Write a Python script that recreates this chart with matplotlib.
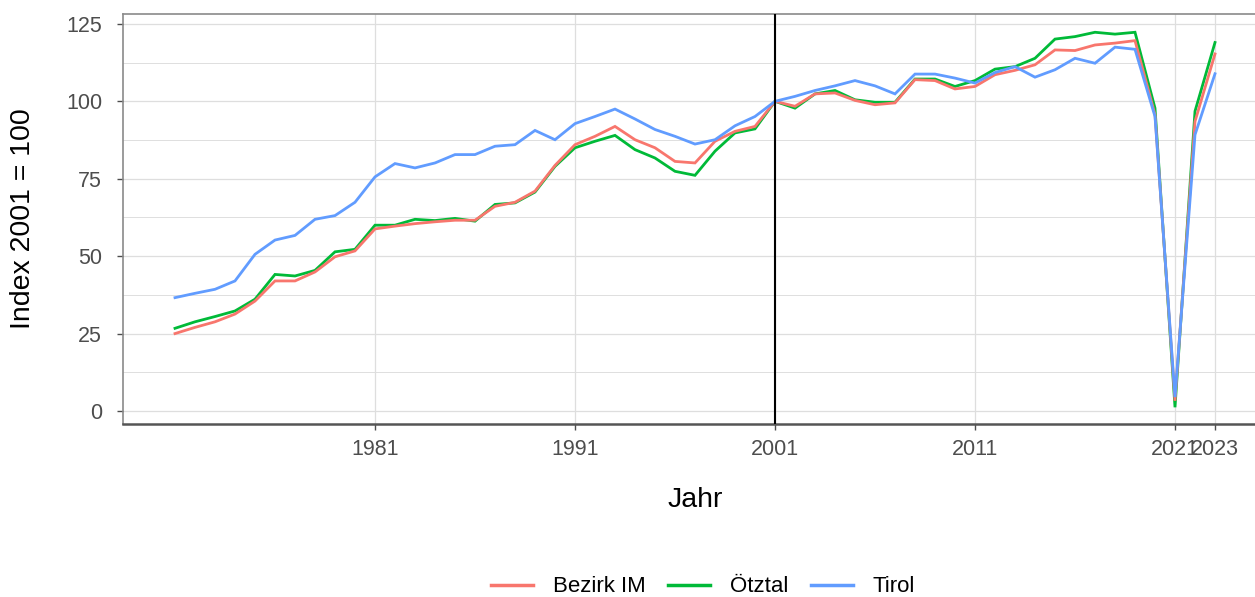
import matplotlib
matplotlib.use("Agg")
import matplotlib.pyplot as plt
from matplotlib.ticker import MultipleLocator

plt.rcParams['font.family'] = ['Liberation Sans', 'DejaVu Sans']

years = list(range(1971, 2024))

bezirk_im = [25.0, 27.0, 28.8, 31.3, 35.5, 42.0, 42.0, 44.9, 49.8, 51.7,
             58.8, 59.7, 60.5, 61.1, 61.6, 61.6, 66.1, 67.4, 71.0, 79.3,
             86.0, 88.7, 91.9, 87.6, 85.0, 80.6, 80.1, 87.1, 90.3, 91.9,
             100.0, 98.4, 102.4, 102.7, 100.3, 98.9, 99.5, 107.0, 106.7, 104.0,
             104.8, 108.6, 110.0, 111.8, 116.6, 116.4, 118.2, 118.8, 119.6, 95.7,
             3.3, 93.5, 115.3]

oetztal = [26.7, 28.8, 30.5, 32.3, 36.1, 44.1, 43.6, 45.4, 51.4, 52.2,
           60.0, 60.0, 61.9, 61.5, 62.2, 61.3, 66.7, 67.2, 70.7, 79.0,
           85.0, 87.1, 89.0, 84.4, 81.7, 77.4, 76.1, 83.9, 89.8, 91.1,
           100.0, 97.8, 102.4, 103.5, 100.5, 99.7, 99.7, 107.2, 107.2, 104.8,
           106.7, 110.4, 111.2, 113.9, 120.1, 120.9, 122.3, 121.7, 122.3, 97.8,
           1.2, 96.8, 119.0]

tirol = [36.6, 38.0, 39.3, 42.0, 50.6, 55.2, 56.7, 61.9, 63.1, 67.4,
         75.6, 79.9, 78.5, 80.1, 82.8, 82.8, 85.5, 86.0, 90.6, 87.6,
         92.8, 95.1, 97.5, 94.3, 90.9, 88.7, 86.2, 87.6, 92.1, 95.1,
         100.0, 101.6, 103.5, 105.0, 106.7, 105.0, 102.4, 108.8, 108.8, 107.5,
         105.9, 109.3, 111.2, 107.8, 110.2, 113.9, 112.3, 117.5, 116.8, 95.1,
         4.5, 89.2, 108.9]

x_breaks = [1981, 1991, 2001, 2011, 2021, 2023]
x_labels = ["1981", "1991", "2001", "2011", "2021", "2023"]
y_breaks = [0, 25, 50, 75, 100, 125]
series_names = ["Bezirk IM", "Ötztal", "Tirol"]
colors = ["#F8766D", "#00BA38", "#619CFF"]

W, H = 1255, 597
fig = plt.figure(figsize=(W / 100, H / 100), dpi=100)
ax = fig.add_axes([123 / W, (H - 424) / H, 1144 / W, 410 / H])

ax.set_xlim(1968.4, 2025.6)
ax.set_ylim(-4.2, 128.2)

# grid
ax.set_xticks(x_breaks)
ax.set_xticklabels(x_labels)
ax.set_yticks(y_breaks)
ax.yaxis.set_minor_locator(MultipleLocator(12.5))
ax.grid(which='major', color='#dedede', linewidth=0.9)
ax.grid(which='minor', axis='y', color='#dedede', linewidth=0.7)
ax.tick_params(which='minor', length=0)
ax.set_axisbelow(True)

data = {"Bezirk IM": bezirk_im, "Ötztal": oetztal, "Tirol": tirol}
handles = {}
for name, z in [("Ötztal", 2), ("Bezirk IM", 3), ("Tirol", 4)]:
    col = colors[series_names.index(name)]
    ln, = ax.plot(years, data[name], color=col, linewidth=2.0, zorder=z,
                  solid_joinstyle='miter')
    handles[name] = ln

ax.axvline(2001, color='black', linewidth=1.5, zorder=5)

for side in ['left', 'top', 'right']:
    ax.spines[side].set_color('#8a8a8a')
    ax.spines[side].set_linewidth(1.2)
ax.spines['bottom'].set_color('#555555')
ax.spines['bottom'].set_linewidth(1.8)

ax.tick_params(axis='both', which='major', colors='#4d4d4d', labelcolor='#4d4d4d',
               labelsize=15.5, length=4.5, width=1.0)
ax.tick_params(axis='y', pad=10.5)
ax.tick_params(axis='x', pad=6)

fig.text(23 / W, 1 - 219 / H, "Index 2001 = 100", rotation=90, ha='center',
         va='center', fontsize=20.5, color='black')
fig.text(695 / W, 1 - 500 / H, "Jahr", ha='center', va='center',
         fontsize=20.5, color='black')

leg = fig.legend([handles[n] for n in series_names], series_names,
                 loc='center', bbox_to_anchor=(703 / W, 1 - 587 / H), ncol=3,
                 frameon=False, fontsize=16, handlelength=1.9,
                 handletextpad=0.9, columnspacing=1.0)
for l in leg.get_lines():
    l.set_linewidth(2.5)

fig.savefig("out.png", dpi=100)
